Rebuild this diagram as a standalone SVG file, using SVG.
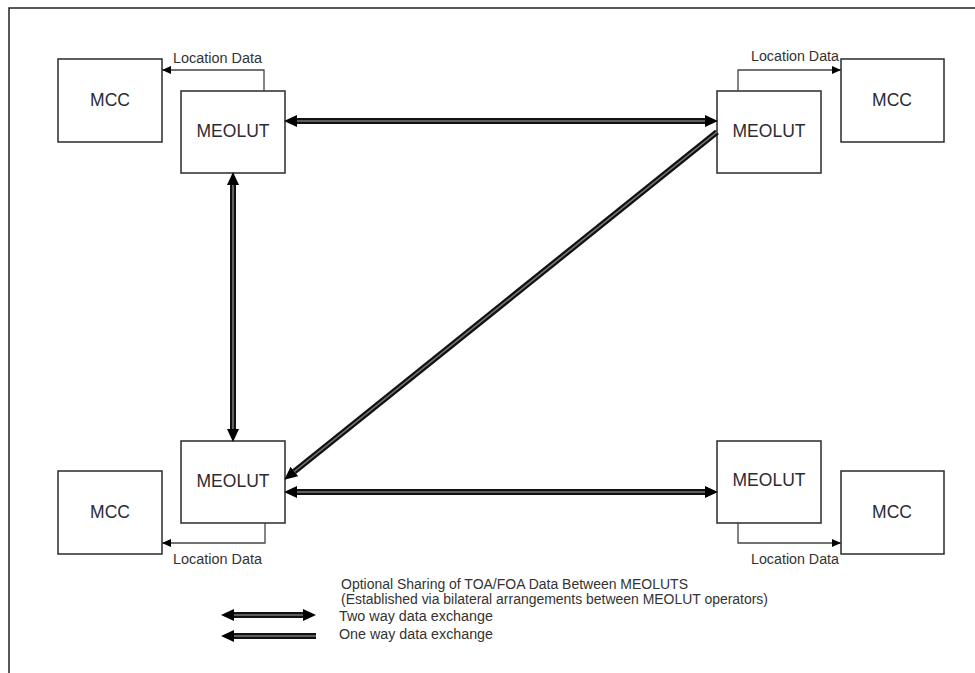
<svg xmlns="http://www.w3.org/2000/svg" width="975" height="673" viewBox="0 0 975 673">
<style>
.box{fill:#fff;stroke:#2a2a2a;stroke-width:1.5}
.lbl{font-family:"Liberation Sans",Arial,sans-serif;font-size:17.5px;fill:#2b2b33;text-anchor:middle}
.sm{font-family:"Liberation Sans",Arial,sans-serif;font-size:14px;fill:#333}
.loc{fill:none;stroke:#444;stroke-width:1.3}
.dbl{fill:none;stroke:#111;stroke-width:6}
.core{fill:none;stroke:#777;stroke-width:1.6}
</style>
<defs>
<marker id="big" markerUnits="userSpaceOnUse" markerWidth="14" markerHeight="14" refX="0" refY="6" orient="auto-start-reverse" viewBox="0 0 14 12">
<path d="M0,0 L13,6 L0,12 z" fill="#000"/>
</marker>
<marker id="small" markerUnits="userSpaceOnUse" markerWidth="10" markerHeight="10" refX="9" refY="4" orient="auto" viewBox="0 0 10 8">
<path d="M0,0 L9,4 L0,8 z" fill="#000"/>
</marker>
</defs>
<rect width="975" height="673" fill="#fff"/>
<path d="M9,673 V8 H975" fill="none" stroke="#222" stroke-width="1.5"/>

<g id="mcc-tl"><rect class="box" x="58" y="59" width="104" height="83"/><text class="lbl" x="110" y="106">MCC</text></g>
<g id="meolut-tl"><rect class="box" x="181" y="91" width="104" height="82"/><text class="lbl" x="233" y="137">MEOLUT</text></g>
<g id="meolut-tr"><rect class="box" x="717" y="91" width="104" height="82"/><text class="lbl" x="769" y="137">MEOLUT</text></g>
<g id="mcc-tr"><rect class="box" x="841" y="59" width="103" height="83"/><text class="lbl" x="892" y="106">MCC</text></g>
<g id="mcc-bl"><rect class="box" x="58" y="471" width="104" height="83"/><text class="lbl" x="110" y="518">MCC</text></g>
<g id="meolut-bl"><rect class="box" x="181" y="441" width="104" height="82"/><text class="lbl" x="233" y="487">MEOLUT</text></g>
<g id="meolut-br"><rect class="box" x="717" y="441" width="104" height="82"/><text class="lbl" x="769" y="486">MEOLUT</text></g>
<g id="mcc-br"><rect class="box" x="841" y="471" width="103" height="83"/><text class="lbl" x="892" y="518">MCC</text></g>

<g id="connectors">
<path class="loc" d="M264,91 V70 H162" marker-end="url(#small)"/>
<path class="loc" d="M738,91 V70 H841" marker-end="url(#small)"/>
<path class="loc" d="M265,523 V543 H162" marker-end="url(#small)"/>
<path class="loc" d="M738,523 V543 H841" marker-end="url(#small)"/>
<text class="sm" x="173" y="63" textLength="89" lengthAdjust="spacingAndGlyphs">Location Data</text>
<text class="sm" x="751" y="61" textLength="88" lengthAdjust="spacingAndGlyphs">Location Data</text>
<text class="sm" x="173" y="564" textLength="89" lengthAdjust="spacingAndGlyphs">Location Data</text>
<text class="sm" x="751" y="564" textLength="88" lengthAdjust="spacingAndGlyphs">Location Data</text>

<path class="dbl" d="M297,121 H705" marker-start="url(#big)" marker-end="url(#big)"/>
<path class="core" d="M297,121 H705"/>
<path class="dbl" d="M233,185 V429" marker-start="url(#big)" marker-end="url(#big)"/>
<path class="core" d="M233,185 V429"/>
<path class="dbl" d="M297,492 H705" marker-start="url(#big)" marker-end="url(#big)"/>
<path class="core" d="M297,492 H705"/>
<path class="dbl" d="M717,132 L294.4,471.5" marker-end="url(#big)"/>
<path class="core" d="M717,132 L294.4,471.5"/>
</g>

<g id="legend">
<text class="sm" x="341" y="589" textLength="347" lengthAdjust="spacingAndGlyphs">Optional Sharing of TOA/FOA Data Between MEOLUTS</text>
<text class="sm" x="341" y="604" textLength="427" lengthAdjust="spacingAndGlyphs">(Established via bilateral arrangements between MEOLUT operators)</text>
<path class="dbl" d="M234,615 H303" marker-start="url(#big)" marker-end="url(#big)"/>
<path class="core" d="M234,615 H303"/>
<text class="sm" x="339" y="621" textLength="154" lengthAdjust="spacingAndGlyphs">Two way data exchange</text>
<path class="dbl" d="M316,636 H234" marker-end="url(#big)"/>
<path class="core" d="M316,636 H234"/>
<text class="sm" x="339" y="639" textLength="154" lengthAdjust="spacingAndGlyphs">One way data exchange</text>
</g>
</svg>
